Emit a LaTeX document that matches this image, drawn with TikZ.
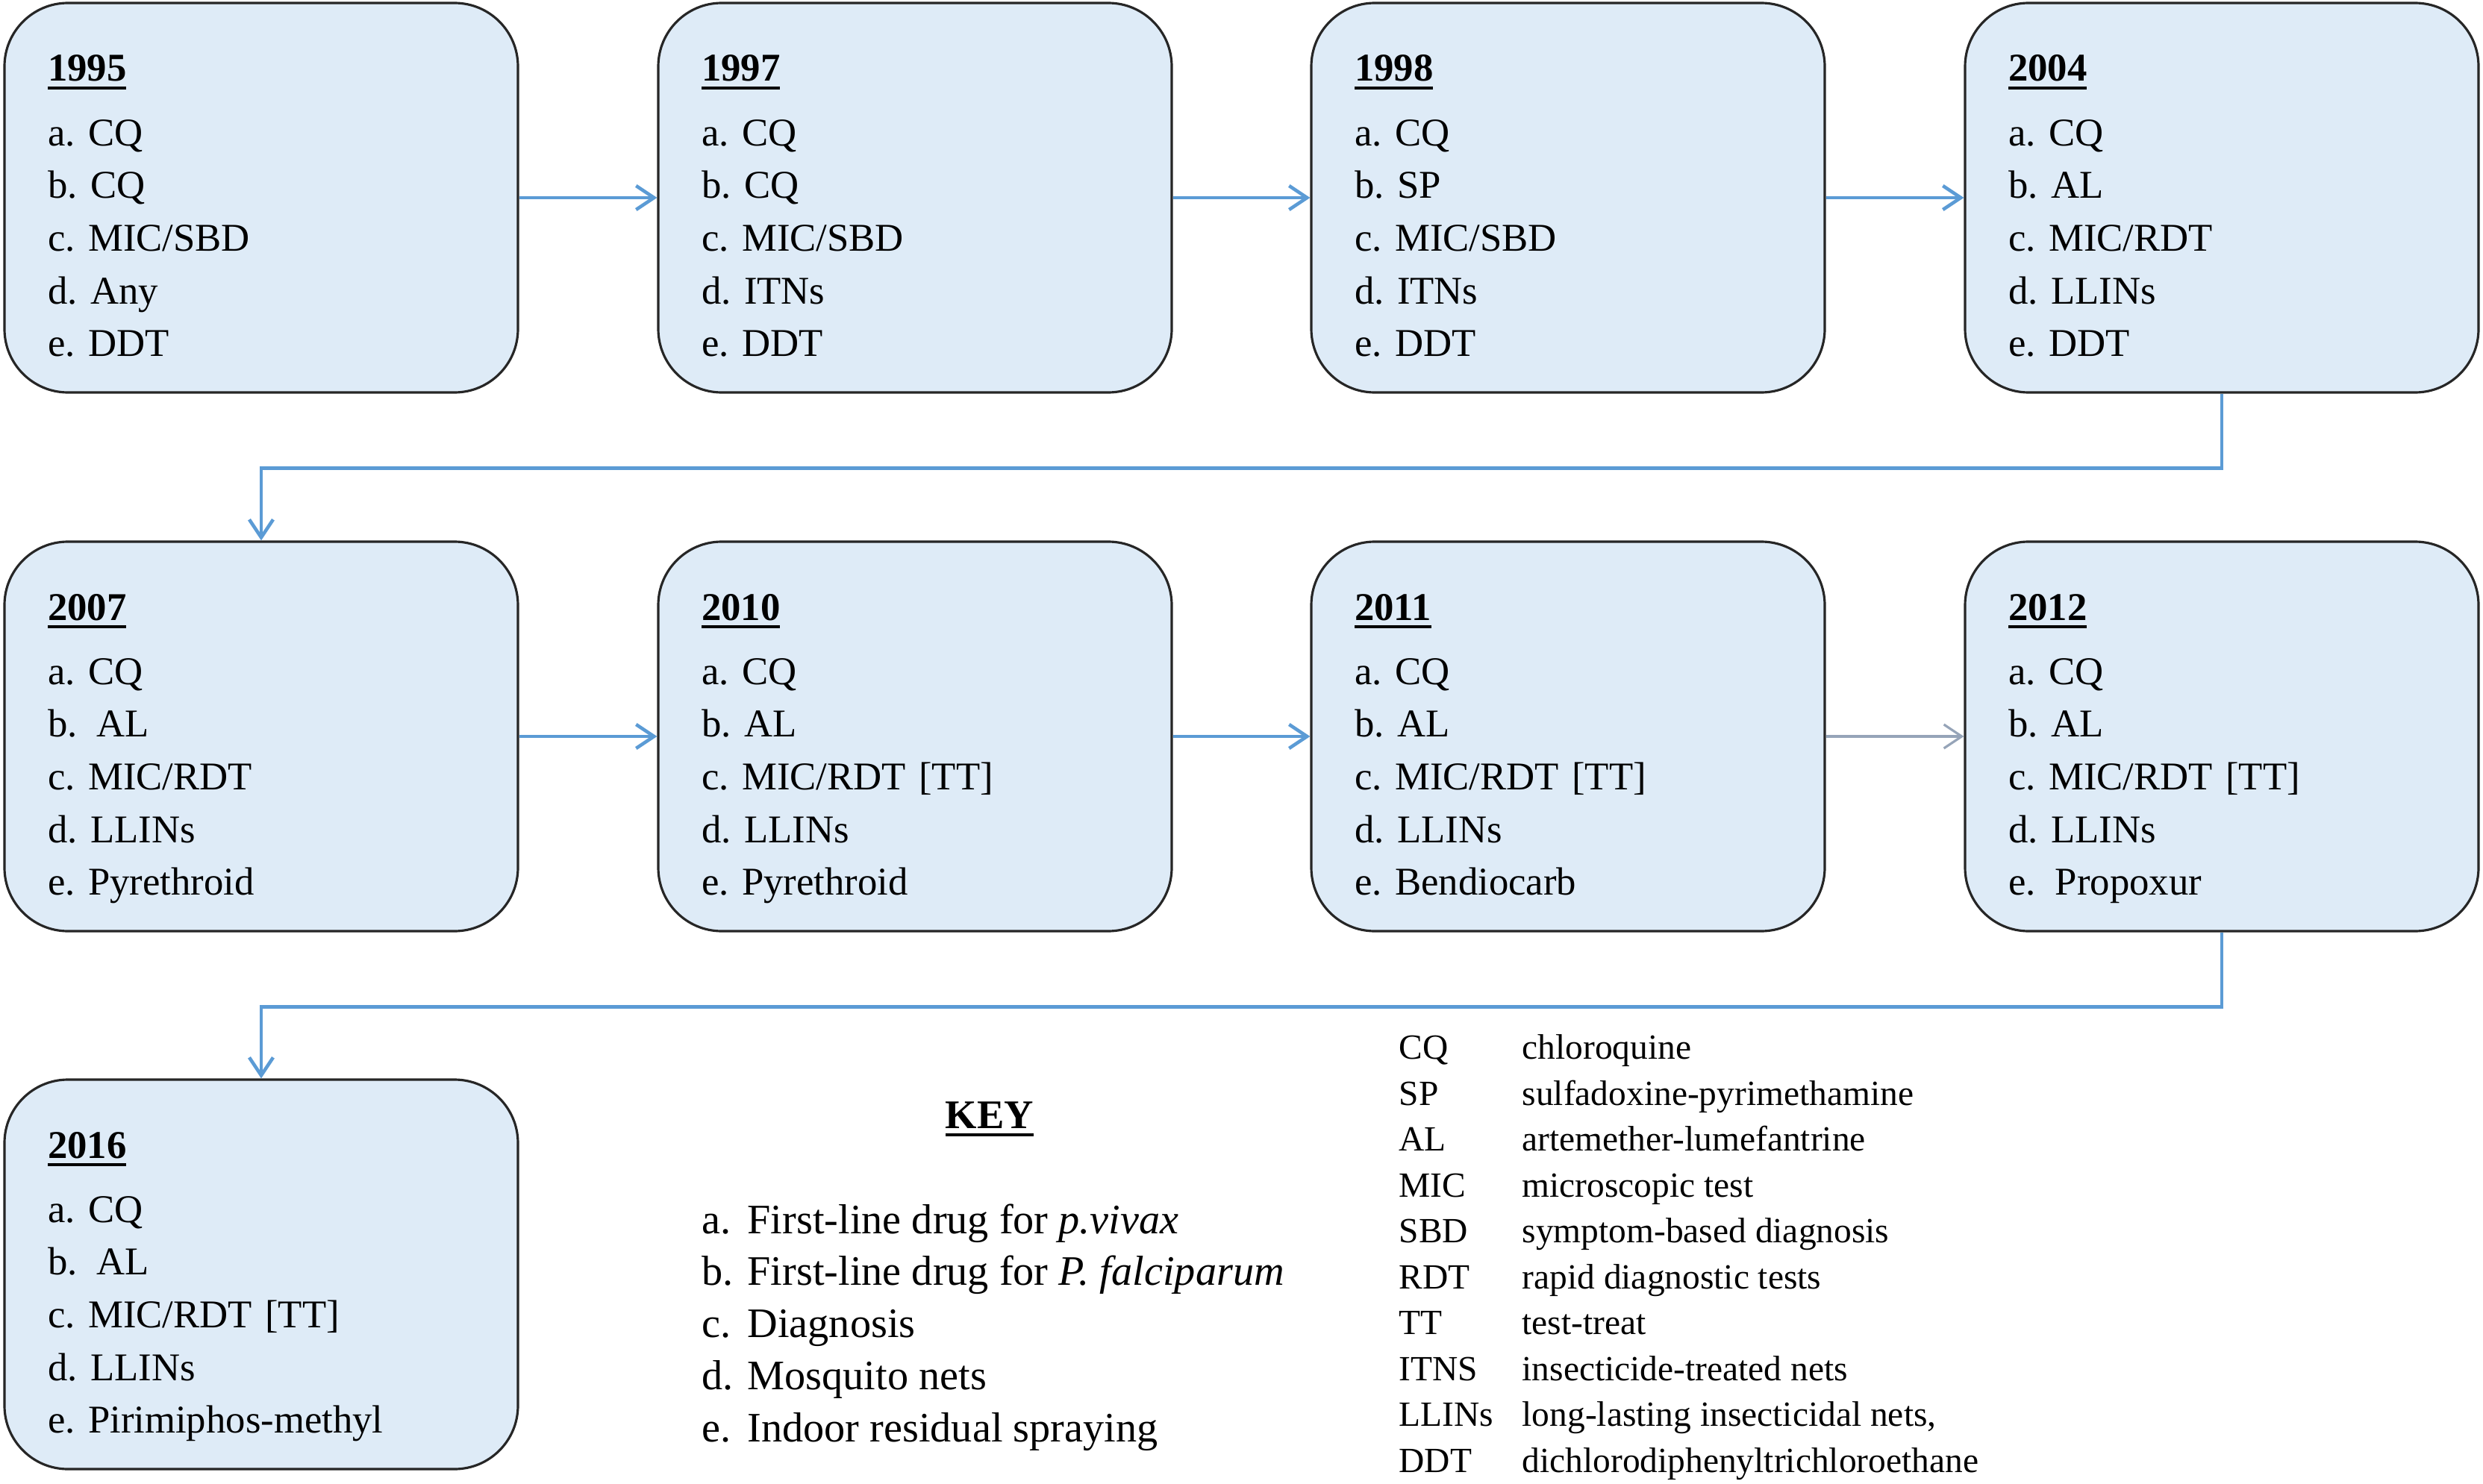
\documentclass[tikz,border=0pt]{standalone}
\usepackage{fontspec}
\setmainfont{Liberation Serif}
\usetikzlibrary{arrows.meta}

\definecolor{boxfill}{RGB}{222,235,247}
\definecolor{flowblue}{RGB}{91,155,213}
\definecolor{flowgray}{RGB}{150,164,184}

\newcommand{\yrline}[1]{\begingroup\setbox0\hbox{\textbf{#1}}\rlap{\rule[-3.2pt]{\wd0}{1.1pt}}\box0\endgroup}

\begin{document}
\frenchspacing
\begin{tikzpicture}[
  yearbox/.style={rectangle, draw=black!85, line width=0.9pt, fill=boxfill,
    rounded corners=0.85cm, inner sep=0pt, minimum width=6.88cm,
    text width=5.72cm, align=left, text height=1.05cm, text depth=4.17cm,
    font=\fontsize{15pt}{20.1pt}\selectfont},
  flow/.style={draw=flowblue, line width=1.3pt, -{Straight Barb[length=2.4mm,width=3.2mm]}},
  thinflow/.style={draw=flowgray, line width=0.9pt, -{Straight Barb[length=2.4mm,width=3.2mm]}},
  keytext/.style={inner sep=0pt, anchor=base west, font=\fontsize{16pt}{19.9pt}\selectfont},
  abbrtext/.style={inner sep=0pt, anchor=base west, font=\fontsize{13.5pt}{17.5pt}\selectfont}
]
  \useasboundingbox (0,0) rectangle (33.27,-19.89);

  \node[yearbox] (y1995) at (3.50,-2.65) {\yrline{1995}\\[4.4pt]a. CQ\\b. CQ\\c. MIC/SBD\\d. Any\\e. DDT};
  \node[yearbox] (y1997) at (12.26,-2.65) {\yrline{1997}\\[4.4pt]a. CQ\\b. CQ\\c. MIC/SBD\\d. ITNs\\e. DDT};
  \node[yearbox] (y1998) at (21.01,-2.65) {\yrline{1998}\\[4.4pt]a. CQ\\b. SP\\c. MIC/SBD\\d. ITNs\\e. DDT};
  \node[yearbox] (y2004) at (29.77,-2.65) {\yrline{2004}\\[4.4pt]a. CQ\\b. AL\\c. MIC/RDT\\d. LLINs\\e. DDT};

  \node[yearbox] (y2007) at (3.50,-9.87) {\yrline{2007}\\[4.4pt]a. CQ\\b.\enspace AL\\c. MIC/RDT\\d. LLINs\\e. Pyrethroid};
  \node[yearbox] (y2010) at (12.26,-9.87) {\yrline{2010}\\[4.4pt]a. CQ\\b. AL\\c. MIC/RDT [TT]\\d. LLINs\\e. Pyrethroid};
  \node[yearbox] (y2011) at (21.01,-9.87) {\yrline{2011}\\[4.4pt]a. CQ\\b. AL\\c. MIC/RDT [TT]\\d. LLINs\\e. Bendiocarb};
  \node[yearbox] (y2012) at (29.77,-9.87) {\yrline{2012}\\[4.4pt]a. CQ\\b. AL\\c. MIC/RDT [TT]\\d. LLINs\\e.\enspace Propoxur};

  \node[yearbox] (y2016) at (3.50,-17.08) {\yrline{2016}\\[4.4pt]a. CQ\\b.\enspace AL\\c. MIC/RDT [TT]\\d. LLINs\\e. Pirimiphos-methyl};

  \draw[flow] (y1995) -- (y1997);
  \draw[flow] (y1997) -- (y1998);
  \draw[flow] (y1998) -- (y2004);
  \draw[flow] (y2004.south) -- ++(0,-1.0) -| (y2007.north);
  \draw[flow] (y2007) -- (y2010);
  \draw[flow] (y2010) -- (y2011);
  \draw[thinflow] (y2011) -- (y2012);
  \draw[flow] (y2012.south) -- ++(0,-1.0) -| (y2016.north);

  \node[inner sep=0pt, anchor=base, font=\fontsize{15.5pt}{19.9pt}\selectfont] (keytitle) at (13.26,-15.12) {\yrline{KEY}};
  \node[keytext] (keylist) at (9.40,-16.53) {\begin{tabular}[t]{@{}p{0.61cm}@{}l@{}}
    a. & First-line drug for \textit{p.vivax}\\
    b. & First-line drug for \textit{P. falciparum}\\
    c. & Diagnosis\\
    d. & Mosquito nets\\
    e. & Indoor residual spraying
  \end{tabular}};

  \node[abbrtext] (abbrevs) at (18.74,-14.195) {\begin{tabular}[t]{@{}p{1.65cm}@{}l@{}}
    CQ & chloroquine\\
    SP & sulfadoxine-pyrimethamine\\
    AL & artemether-lumefantrine\\
    MIC & microscopic test\\
    SBD & symptom-based diagnosis\\
    RDT & rapid diagnostic tests\\
    TT & test-treat\\
    ITNS & insecticide-treated nets\\
    LLINs & long-lasting insecticidal nets,\\
    DDT & dichlorodiphenyltrichloroethane
  \end{tabular}};
\end{tikzpicture}
\end{document}
